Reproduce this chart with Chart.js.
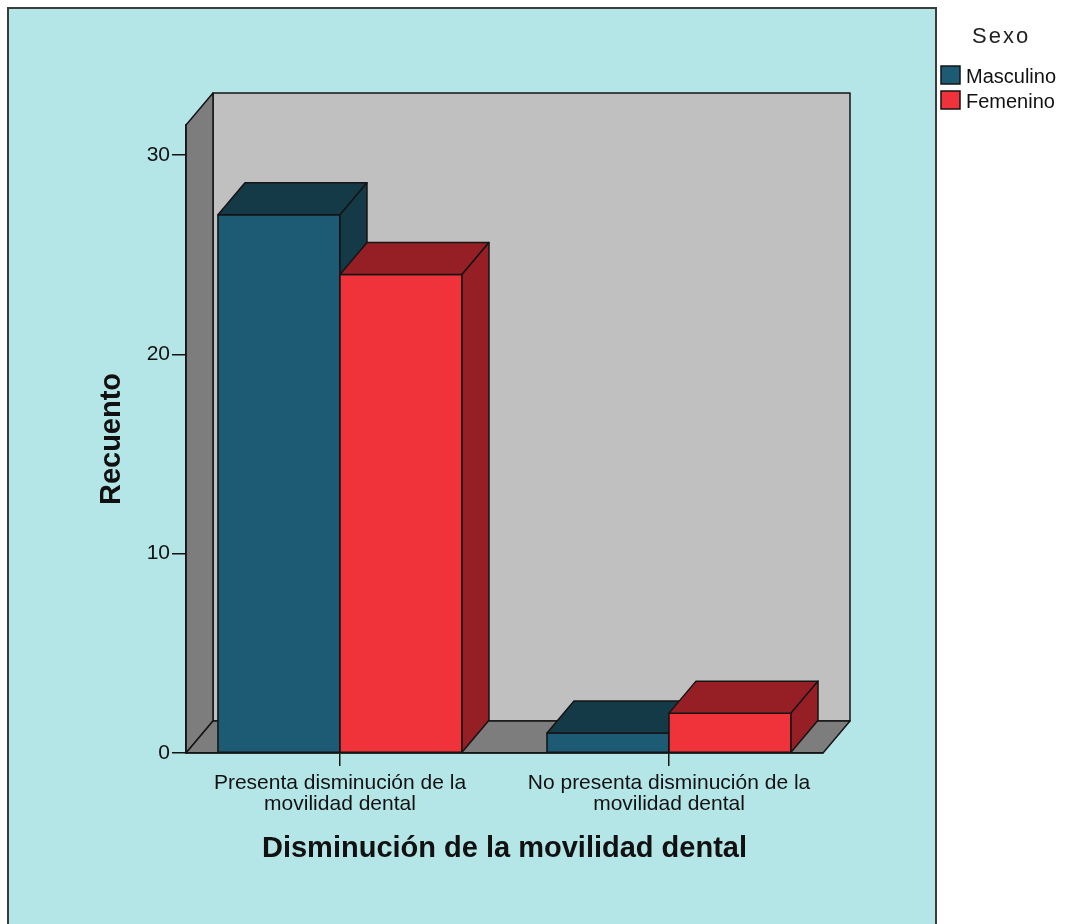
<!DOCTYPE html>
<html>
<head>
<meta charset="utf-8">
<script src="https://cdn.jsdelivr.net/npm/chart.js@4/dist/chart.umd.min.js"></script>
<style>
  html, body { margin: 0; padding: 0; background: #fff; overflow: hidden; }
  canvas { display: block; }
</style>
</head>
<body>
<canvas id="graphCanvas" width="1068" height="924"></canvas>
<script>
// values per category
var categories = [
    ['Presenta disminución de la', 'movilidad dental'],
    ['No presenta disminución de la', 'movilidad dental']
];
var masculino = [27, 1];
var femenino = [24, 2];
var seriesNames = ['Masculino', 'Femenino'];
var yTicks = [0, 10, 20, 30];
var legendTitle = 'Sexo';

// depth of the 3d look, in px
var DX = 27, DY = -32;
var EDGE = '#141414';

function poly(ctx, pts, fill) {
    ctx.beginPath();
    ctx.moveTo(pts[0][0], pts[0][1]);
    for (var k = 1; k < pts.length; k++) ctx.lineTo(pts[k][0], pts[k][1]);
    ctx.closePath();
    if (fill) { ctx.fillStyle = fill; ctx.fill(); }
    ctx.stroke();
}

// panel, back wall, side wall and floor
var room = {
    id: 'room',
    beforeDraw: function (chart) {
        var ctx = chart.ctx, a = chart.chartArea;
        ctx.save();
        ctx.fillStyle = '#fff';
        ctx.fillRect(0, 0, chart.width, chart.height);
        ctx.fillStyle = '#b4e6e8';
        ctx.fillRect(8, 8, 928, chart.height);
        ctx.strokeStyle = '#3c3c3c';
        ctx.lineWidth = 2;
        ctx.strokeRect(8, 8, 928, chart.height + 20);

        ctx.strokeStyle = EDGE;
        ctx.lineWidth = 1.5;
        ctx.lineJoin = 'round';
        poly(ctx, [[a.left + DX, a.top + DY], [a.right + DX, a.top + DY],
                   [a.right + DX, a.bottom + DY], [a.left + DX, a.bottom + DY]], '#c0c0c0');
        poly(ctx, [[a.left, a.top], [a.left + DX, a.top + DY],
                   [a.left + DX, a.bottom + DY], [a.left, a.bottom]], '#7d7d7d');
        poly(ctx, [[a.left, a.bottom], [a.left + DX, a.bottom + DY],
                   [a.right + DX, a.bottom + DY], [a.right, a.bottom]], '#7d7d7d');
        ctx.restore();
    }
};

// redraw bars left to right with top and side faces
var boxes = {
    id: 'boxes',
    afterDatasetsDraw: function (chart) {
        var ctx = chart.ctx;
        ctx.save();
        ctx.strokeStyle = EDGE;
        ctx.lineWidth = 1.5;
        ctx.lineJoin = 'round';
        for (var i = 0; i < categories.length; i++) {
            chart.data.datasets.forEach(function (ds, d) {
                var bar = chart.getDatasetMeta(d).data[i];
                var p = bar.getProps(['x', 'y', 'base', 'width'], true);
                var l = p.x - p.width / 2, r = p.x + p.width / 2;
                poly(ctx, [[l, p.y], [r, p.y], [r, p.base], [l, p.base]], ds.backgroundColor);
                poly(ctx, [[l, p.y], [l + DX, p.y + DY], [r + DX, p.y + DY], [r, p.y]], ds.shadeColor);
                poly(ctx, [[r, p.y], [r + DX, p.y + DY], [r + DX, p.base + DY], [r, p.base]], ds.shadeColor);
            });
        }
        ctx.restore();
    }
};

var key = {
    id: 'key',
    afterDraw: function (chart) {
        var ctx = chart.ctx;
        ctx.save();
        ctx.fillStyle = '#222';
        ctx.font = '22px "Liberation Sans", Arial, sans-serif';
        ctx.letterSpacing = '2px';
        ctx.fillText(legendTitle, 972, 43);
        ctx.letterSpacing = '0px';
        ctx.font = '20px "Liberation Sans", Arial, sans-serif';
        ctx.strokeStyle = EDGE;
        ctx.lineWidth = 1.5;
        chart.data.datasets.forEach(function (ds, d) {
            var y = 66 + d * 25;
            ctx.fillStyle = ds.backgroundColor;
            ctx.fillRect(941, y, 19, 18);
            ctx.strokeRect(941, y, 19, 18);
            ctx.fillStyle = '#111';
            ctx.fillText(ds.label, 966, y + 17);
        });
        ctx.restore();
    }
};

Chart.defaults.font.family = '"Liberation Sans", Arial, sans-serif';
Chart.defaults.color = '#111';

var chartdata = {
    datasets: [
        {
            label: seriesNames[0],
            backgroundColor: '#1d5b74',
            shadeColor: '#143a47',
            borderWidth: 0,
            data: masculino.map(function (v, i) { return { x: i, y: v }; })
        },
        {
            label: seriesNames[1],
            backgroundColor: '#f0323a',
            shadeColor: '#951f24',
            borderWidth: 0,
            data: femenino.map(function (v, i) { return { x: i, y: v }; })
        }
    ]
};

var graphTarget = document.getElementById('graphCanvas');

var barGraph = new Chart(graphTarget, {
    type: 'bar',
    data: chartdata,
    plugins: [room, boxes, key],
    options: {
        responsive: false,
        animation: false,
        layout: { padding: { left: 0, top: 125, right: 245, bottom: 0 } },
        barThickness: 122,
        plugins: { legend: { display: false }, tooltip: { enabled: false } },
        scales: {
            x: {
                type: 'linear',
                min: -0.468,
                max: 1.468,
                offset: false,
                afterBuildTicks: function (s) {
                    s.ticks = categories.map(function (c, i) { return { value: i }; });
                },
                afterFit: function (s) { s.height = 171; },
                grid: { offset: false, drawOnChartArea: false, drawTicks: true, tickLength: 13, color: EDGE, lineWidth: 1.5 },
                border: { display: true, color: EDGE, width: 1.5 },
                ticks: {
                    callback: function (v) { return categories[v]; },
                    font: { size: 21, lineHeight: 1 },
                    padding: 7,
                    maxRotation: 0,
                    autoSkip: false
                },
                title: {
                    display: true,
                    text: 'Disminución de la movilidad dental',
                    font: { size: 29, weight: 'bold', lineHeight: 1.2 },
                    padding: { top: 0, bottom: 58 }
                }
            },
            y: {
                min: 0,
                max: 31.5,
                afterBuildTicks: function (s) {
                    s.ticks = yTicks.map(function (v) { return { value: v }; });
                },
                afterFit: function (s) { s.width = 186; },
                grid: { drawOnChartArea: false, drawTicks: true, tickLength: 14, color: EDGE, lineWidth: 1.5 },
                border: { display: true, color: EDGE, width: 1.5 },
                ticks: { font: { size: 21 }, padding: 2 },
                title: {
                    display: true,
                    text: 'Recuento',
                    font: { size: 29, weight: 'bold', lineHeight: 1.2 },
                    padding: { top: 95, bottom: 0 }
                }
            }
        }
    }
});
</script>
</body>
</html>
